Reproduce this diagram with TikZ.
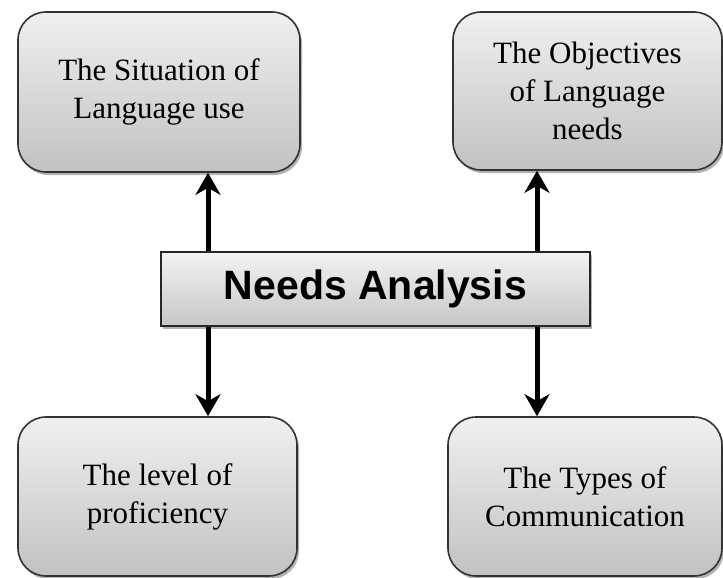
\documentclass[tikz,border=0pt]{standalone}
\usepackage{fontspec}
\setmainfont{Liberation Serif}
\newfontfamily\headfont{Liberation Sans}
\usetikzlibrary{arrows.meta,shadows}
\tikzset{
  x=1pt,y=-1pt,
  roundbox/.style={draw=black!80, line width=1.6pt, rounded corners=28pt,
    top color=black!6, bottom color=black!24, inner sep=0pt, align=center,
    font=\fontsize{31}{38}\selectfont,
    drop shadow={shadow xshift=2pt, shadow yshift=-3pt, fill=black!60, opacity=.5}},
  mainbox/.style={draw=black!85, line width=1.6pt,
    top color=black!5, bottom color=black!22, inner sep=0pt,
    font=\headfont\bfseries\fontsize{41}{45}\selectfont,
    drop shadow={shadow xshift=2pt, shadow yshift=-3pt, fill=black!60, opacity=.5}},
  arr/.style={line width=5pt, -{Stealth[length=22pt,width=25pt,inset=7pt]}}
}
\begin{document}
\begin{tikzpicture}
\useasboundingbox[fill=white] (0,0) rectangle (723,578);
\node[roundbox, minimum width=282pt, minimum height=160pt] (tl) at (159,92)
  {The Situation of\\Language use};
\node[roundbox, minimum width=269pt, minimum height=158pt] (tr) at (587.5,91)
  {The Objectives\\of Language\\needs};
\node[mainbox, minimum width=429pt, minimum height=74pt] (c) at (375.5,289)
  {Needs Analysis};
\node[roundbox, minimum width=279pt, minimum height=159pt] (bl) at (157.5,496.5)
  {The level of\\proficiency};
\node[roundbox, minimum width=274pt, minimum height=159pt] (br) at (585,496.5)
  {The Types of\\Communication};
\coordinate (xl) at (208,0);
\coordinate (xr) at (537,0);
\draw[arr] (c.north -| xl) -- (tl.south -| xl);
\draw[arr] (c.north -| xr) -- (tr.south -| xr);
\draw[arr] (c.south -| xl) -- (bl.north -| xl);
\draw[arr] (c.south -| xr) -- (br.north -| xr);
\end{tikzpicture}
\end{document}
